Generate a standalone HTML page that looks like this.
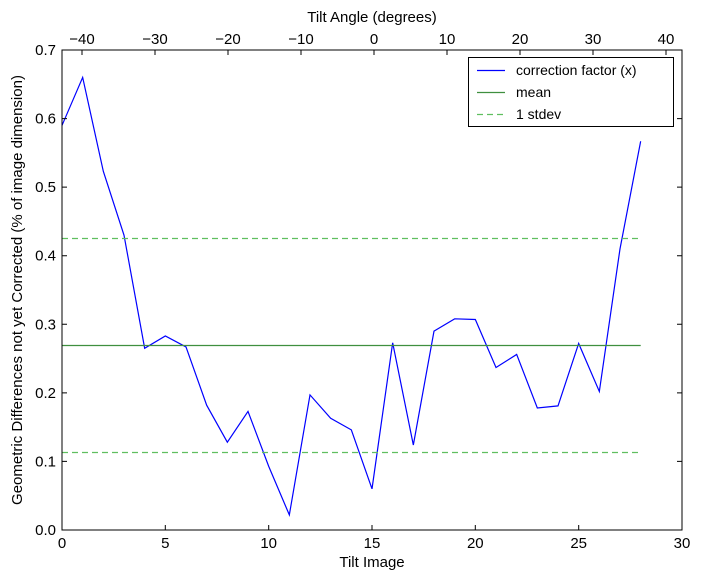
<!DOCTYPE html>
<html><head><meta charset="utf-8"><style>
html,body{margin:0;padding:0;background:#fff;}
svg{display:block;font-family:"Liberation Sans","DejaVu Sans",sans-serif;}
</style></head><body>
<svg width="701" height="579" viewBox="0 0 701 579" xmlns="http://www.w3.org/2000/svg">
<rect width="701" height="579" fill="#fff"/>
<g transform="translate(62,530) scale(20.6667,-685.714)" fill="none">
<polyline vector-effect="non-scaling-stroke" stroke="#0000ff" stroke-width="1.2" points="0,0.59 1,0.66 2,0.523 3,0.43 4,0.265 5,0.283 6,0.267 7,0.182 8,0.128 9,0.173 10,0.093 11,0.022 12,0.197 13,0.163 14,0.146 15,0.060 16,0.273 17,0.124 18,0.290 19,0.308 20,0.307 21,0.237 22,0.256 23,0.178 24,0.181 25,0.272 26,0.202 27,0.41 28,0.567"/>
</g>
<line stroke="#3f8f3f" stroke-width="1.2" x1="62" x2="640.7" y1="345.5" y2="345.5"/>
<line stroke="#5fbf5f" stroke-width="1.2" stroke-dasharray="6,4" x1="62" x2="640.7" y1="238.5" y2="238.5"/>
<line stroke="#5fbf5f" stroke-width="1.2" stroke-dasharray="6,4" x1="62" x2="640.7" y1="452.5" y2="452.5"/>
<rect x="62" y="50" width="620" height="480" fill="none" stroke="#000" stroke-width="1"/>
<g stroke="#000" stroke-width="1">
<path d="M62,530v-5M165.3,530v-5M268.7,530v-5M372,530v-5M475.3,530v-5M578.7,530v-5M682,530v-5"/>
<path d="M62,530h5M62,461.4h5M62,392.9h5M62,324.3h5M62,255.7h5M62,187.1h5M62,118.6h5M62,50h5
M682,530h-5M682,461.4h-5M682,392.9h-5M682,324.3h-5M682,255.7h-5M682,187.1h-5M682,118.6h-5M682,50h-5"/>
<path d="M82,50v5M155,50v5M228,50v5M301,50v5M374,50v5M447,50v5M520,50v5M593,50v5M666,50v5"/>
</g>
<g font-size="15" fill="#000" text-anchor="middle">
<text x="62" y="548">0</text><text x="165.3" y="548">5</text><text x="268.7" y="548">10</text><text x="372" y="548">15</text><text x="475.3" y="548">20</text><text x="578.7" y="548">25</text><text x="682" y="548">30</text>
<text x="82" y="44">−40</text><text x="155" y="44">−30</text><text x="228" y="44">−20</text><text x="301" y="44">−10</text><text x="374" y="44">0</text><text x="447" y="44">10</text><text x="520" y="44">20</text><text x="593" y="44">30</text><text x="666" y="44">40</text>
</g>
<g font-size="15" fill="#000" text-anchor="end">
<text x="56" y="535">0.0</text><text x="56" y="466.4">0.1</text><text x="56" y="397.9">0.2</text><text x="56" y="329.3">0.3</text><text x="56" y="260.7">0.4</text><text x="56" y="192.1">0.5</text><text x="56" y="123.6">0.6</text><text x="56" y="55">0.7</text>
</g>
<text x="372" y="567" font-size="15" text-anchor="middle">Tilt Image</text>
<text x="372" y="22" font-size="15" text-anchor="middle">Tilt Angle (degrees)</text>
<text transform="translate(22,290) rotate(-90)" font-size="15" text-anchor="middle">Geometric Differences not yet Corrected (% of image dimension)</text>
<rect x="468.5" y="57.5" width="205" height="69" fill="#fff" stroke="#000" stroke-width="1"/>
<line x1="477" x2="505" y1="70.5" y2="70.5" stroke="#0000ff" stroke-width="1.2"/>
<line x1="477" x2="505" y1="92.5" y2="92.5" stroke="#3f8f3f" stroke-width="1.2"/>
<line x1="477" x2="505" y1="114.5" y2="114.5" stroke="#5fbf5f" stroke-width="1.2" stroke-dasharray="6,4"/>
<g font-size="14" fill="#000">
<text x="516" y="75">correction factor (x)</text>
<text x="516" y="97">mean</text>
<text x="516" y="119">1 stdev</text>
</g>
</svg>
</body></html>
